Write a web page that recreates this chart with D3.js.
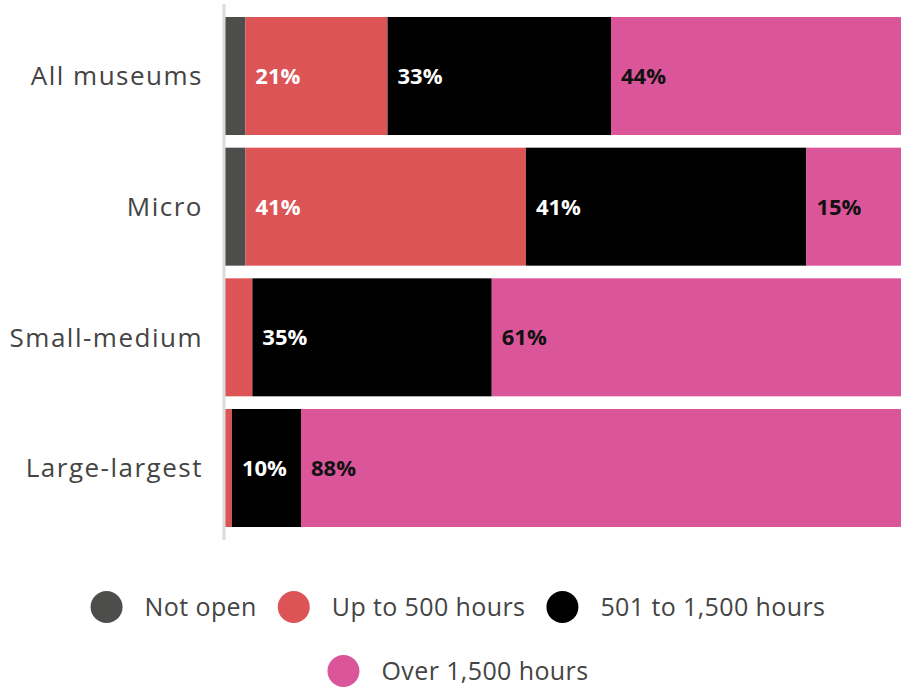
<!DOCTYPE html>
<html><head><meta charset="utf-8">
<script src="https://cdn.jsdelivr.net/npm/d3@7"></script>
<style>
html,body{margin:0;padding:0;background:#fff;}
svg{display:block;}
</style></head>
<body>
<svg id="chart" width="901" height="687"></svg>
<script>
const categories = ["All museums", "Micro", "Small-medium", "Large-largest"];
const seriesNames = ["Not open", "Up to 500 hours", "501 to 1,500 hours", "Over 1,500 hours"];
const notOpen = [3, 3, 0, 0];
const upTo500 = [21, 41, 4, 1];
const from501to1500 = [33, 41, 35, 10];
const over1500 = [44, 15, 61, 88];
const colors = ["#4d4d4b", "#dc5456", "#000000", "#db559b"];
const labelColors = ["#ffffff", "#ffffff", "#ffffff", "#111111"];

const seriesValues = [notOpen, upTo500, from501to1500, over1500];
const rows = categories.map((c, i) => {
  const r = {category: c};
  seriesNames.forEach((s, k) => r[s] = seriesValues[k][i]);
  return r;
});

const svg = d3.select("#chart");
const x = d3.scaleLinear().domain([0, 1]).range([225, 909]);
const y = d3.scaleBand().domain(categories).range([17, 527]).paddingInner(0.097).paddingOuter(0);

const stacked = d3.stack().keys(seriesNames).offset(d3.stackOffsetExpand)(rows);

const g = svg.append("g");
const layers = g.selectAll("g.layer").data(stacked).join("g")
  .attr("class", "layer")
  .attr("fill", (d, i) => colors[i]);

layers.selectAll("rect").data(d => d).join("rect")
  .attr("x", d => x(d[0]))
  .attr("y", d => y(d.data.category))
  .attr("width", d => Math.max(0, x(d[1]) - x(d[0])))
  .attr("height", y.bandwidth());

// value labels
stacked.forEach((layer, i) => {
  const key = layer.key;
  g.append("g").selectAll("text").data(layer.filter(d => d.data[key] >= 10)).join("text")
    .attr("x", d => x(d[0]) + 10)
    .attr("y", d => y(d.data.category) + y.bandwidth() / 2)
    .attr("dy", "0.36em")
    .attr("fill", labelColors[i])
    .style("font-family", "'Open Sans', sans-serif")
    .style("font-weight", 700)
    .style("font-size", "22px")
    .text(d => d.data[key] + "%");
});

// axis line
svg.append("line")
  .attr("x1", 224).attr("x2", 224)
  .attr("y1", 4).attr("y2", 540)
  .attr("stroke", "#dcdcdc").attr("stroke-width", 3);

// category labels
const yAxis = d3.axisLeft(y).tickSize(0).tickPadding(0);
const ax = svg.append("g").attr("transform", "translate(203,0)").call(yAxis);
ax.select(".domain").remove();
ax.selectAll("text")
  .attr("dy", "0.36em")
  .style("font-family", "'Open Sans', sans-serif")
  .style("font-size", "26px")
  .style("letter-spacing", "1.5px")
  .attr("fill", "#444");

// legend (flow layout, centered rows)
const legend = svg.append("g");
const items = seriesNames.map((name, i) => {
  const it = legend.append("g");
  it.append("circle").attr("r", 16).attr("cx", 16).attr("cy", 0).attr("fill", colors[i]);
  const t = it.append("text").attr("x", 54).attr("dy", "0.36em")
    .style("font-family", "'Open Sans', sans-serif")
    .style("font-size", "25px")
    .style("letter-spacing", "0.4px")
    .attr("fill", "#444").text(name);
  return {g: it, w: 54 + t.node().getComputedTextLength()};
});
const maxW = 780, gap = 21, rowH = 64, centerX = 458, firstY = 607;
const lrows = [];
let cur = [], curW = 0;
items.forEach(it => {
  const add = cur.length ? gap + it.w : it.w;
  if (cur.length && curW + add > maxW) { lrows.push({items: cur, w: curW}); cur = [it]; curW = it.w; }
  else { cur.push(it); curW += add; }
});
if (cur.length) lrows.push({items: cur, w: curW});
lrows.forEach((r, ri) => {
  let xx = centerX - r.w / 2;
  r.items.forEach(it => {
    it.g.attr("transform", `translate(${xx},${firstY + ri * rowH})`);
    xx += it.w + gap;
  });
});
</script>
</body></html>
